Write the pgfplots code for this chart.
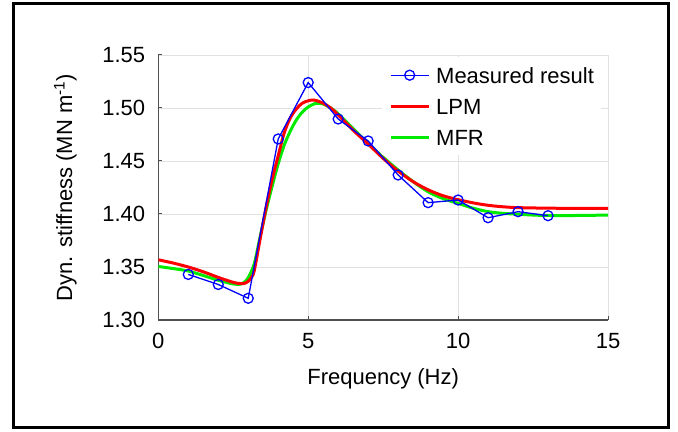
\documentclass[border=0pt]{standalone}
\usepackage{fontspec}
\setmainfont{Liberation Sans}
\usepackage{pgfplots}
\pgfplotsset{compat=1.18}
\definecolor{mfrgreen}{RGB}{0,235,0}
\definecolor{axgray}{RGB}{80,80,80}
\definecolor{gridgray}{RGB}{225,225,225}
\newcommand\bigfont{\fontsize{22bp}{26bp}\selectfont}

\begin{document}
\begin{tikzpicture}
\path[use as bounding box] (0,0) rectangle (678bp,432bp);
\begin{axis}[
  at={(158.3bp,112bp)}, anchor=south west,
  scale only axis, width=449.7bp, height=265bp,
  xmin=0, xmax=15, ymin=1.30, ymax=1.55,
  xtick={0,5,10,15}, ytick={1.30,1.35,1.40,1.45,1.50,1.55},
  axis x line*=bottom, axis y line*=left,
  axis line style={draw=axgray, line width=1.2bp, -},
  tick align=inside, major tick length=4bp,
  tick style={draw=axgray, line width=1bp},
  grid=major, grid style={draw=gridgray, line width=0.9bp},
  font=\bigfont,
  /pgf/number format/assume math mode=true,
  tick label style={inner sep=0pt, font=\bigfont},
  y tick label style={/pgf/number format/fixed, /pgf/number format/fixed zerofill,
    /pgf/number format/precision=2, xshift=-13bp},
  x tick label style={yshift=-13bp},
  xlabel={Frequency (Hz)},
  ylabel={Dyn. stiffness (MN m\textsuperscript{-1})},
  every axis x label/.style={at={(axis description cs:0.5,0)}, anchor=base, yshift=-64bp},
  every axis y label/.style={at={(axis description cs:-0.1919,0.5)}, rotate=90, anchor=base},
  reverse legend,
  legend cell align=left,
  legend style={at={(axis description cs:0.4963,0.9925)}, anchor=north west,
    draw=none, fill=white, inner xsep=7.5bp, inner ysep=10bp,
    row sep=15bp, column sep=6bp, font=\bigfont,
    nodes={inner sep=0pt, text height=16bp, text depth=0pt}},
  legend image code/.code={\draw[mark repeat=2,mark phase=2,#1]
    plot coordinates {(0bp,0bp) (19bp,0bp) (38bp,0bp)};},
]
% MFR
\addplot[mfrgreen, line width=3bp, smooth, tension=0.5] coordinates {
(0,1.3505) (0.5,1.3485) (1,1.3462) (1.5,1.3420) (2,1.3375) (2.5,1.3340)
(2.75,1.3338) (2.9,1.3365) (3.0,1.3400) (3.2,1.3530) (3.4,1.3790)
(3.6,1.4040) (3.8,1.4265) (4.0,1.4475) (4.2,1.4650) (4.4,1.4780)
(4.6,1.4885) (4.8,1.4960) (5.0,1.5010) (5.25,1.5043) (5.5,1.5038)
(5.75,1.5000) (6.0,1.4945) (6.5,1.4805) (7.0,1.4665) (7.5,1.4535)
(8.0,1.4415) (8.5,1.4305) (9.0,1.4210) (9.5,1.4145) (10,1.4100)
(10.5,1.4055) (11,1.4022) (11.5,1.4006) (12,1.3998) (12.5,1.3990)
(13,1.3986) (14,1.3986) (15,1.3990)
};
% LPM
\addplot[red, line width=3bp, smooth, tension=0.5] coordinates {
(0,1.3568) (0.5,1.3537) (1,1.3500) (1.5,1.3455) (2,1.3402) (2.5,1.3355)
(2.75,1.3343) (2.9,1.3348) (3.0,1.3365) (3.1,1.3400) (3.2,1.3465)
(3.4,1.3770) (3.6,1.4070) (3.8,1.4330) (4.0,1.4550) (4.2,1.4765)
(4.4,1.4905) (4.6,1.4990) (4.8,1.5045) (5.0,1.5068) (5.2,1.5075)
(5.5,1.5045) (5.75,1.5000) (6.0,1.4935) (6.5,1.4790) (7.0,1.4660)
(7.5,1.4525) (8.0,1.4405) (8.5,1.4305) (9,1.4228) (9.5,1.4172)
(10,1.4135) (10.5,1.4105) (11,1.4082) (11.5,1.4068) (12,1.4060)
(13,1.4055) (14,1.4053) (15,1.4053)
};
% measured
\addplot[blue, line width=1.3bp, mark=o, mark size=5bp, mark options={line width=1.3bp}] coordinates {
(1,1.3430) (2,1.3335) (3,1.3205) (4,1.4708) (5,1.5240) (6,1.4896)
(7,1.4689) (8,1.4368) (9,1.4107) (10,1.4132) (11,1.3965) (12,1.4022)
(13,1.3984)
};
\legend{MFR, LPM, Measured result}
\end{axis}
\draw[line width=3bp, black] (13bp,4bp) rectangle (668bp,428bp);
\end{tikzpicture}
\end{document}
